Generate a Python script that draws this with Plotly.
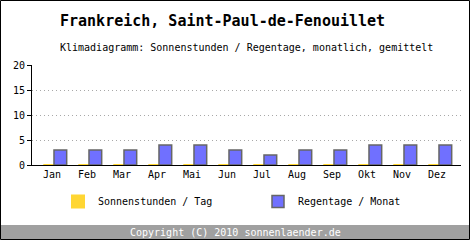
import plotly.graph_objects as go

months = ["Jan", "Feb", "Mar", "Apr", "Mai", "Jun", "Jul", "Aug", "Sep", "Okt", "Nov", "Dez"]
sonnenstunden = [0, 0, 0, 0, 0, 0, 0, 0, 0, 0, 0, 0]
regentage = [3, 3, 3, 4, 4, 3, 2, 3, 3, 4, 4, 4]
y_ticks = [0, 5, 10, 15, 20]

W, H = 470, 240
L, R, T, B = 32, 9, 65, 75
PW = W - L - R
PH = H - T - B

def px(x):
    return (x - L) / PW

def py(y):
    return (H - B - y) / PH

MONO = "DejaVu Sans Mono"
xs = list(range(len(months)))

fig = go.Figure()
fig.add_trace(go.Bar(
    x=xs, y=sonnenstunden, name="Sonnenstunden / Tag",
    offset=-0.249, width=0.306,
    marker=dict(color="#ffd633", line=dict(color="#ffd633", width=2)),
))
fig.add_trace(go.Bar(
    x=xs, y=regentage, name="Regentage / Monat",
    offset=0.057, width=0.363,
    marker=dict(color="#7070ff", line=dict(color="#666666", width=1.5)),
))

fig.update_layout(
    width=W, height=H,
    margin=dict(l=L, r=R, t=T, b=B, pad=0),
    paper_bgcolor="#ffffff", plot_bgcolor="#ffffff",
    barmode="overlay",
    showlegend=True,
    font=dict(family=MONO, size=10, color="#000000"),
    legend=dict(orientation="h", x=px(58), xanchor="left", y=py(201.5), yanchor="middle",
                entrywidth=155, entrywidthmode="pixels",
                font=dict(family=MONO, size=10, color="#000000"),
                bgcolor="rgba(0,0,0,0)", tracegroupgap=0),
    xaxis=dict(range=[-0.571, 11.686], tickvals=xs, ticktext=months,
               showgrid=False, zeroline=False, showline=True, linecolor="#000000",
               linewidth=1, ticks="", layer="below traces",
               tickfont=dict(family=MONO, size=10, color="#000000"), fixedrange=True),
    yaxis=dict(range=[0, 20], tickvals=y_ticks, showgrid=True, gridcolor="#a8a8a8",
               griddash="1px,3px", gridwidth=1, zeroline=False, showline=True,
               linecolor="#000000", linewidth=1, ticks="outside", ticklen=4,
               tickcolor="#000000", tickfont=dict(family=MONO, size=10, color="#000000"),
               fixedrange=True),
    shapes=[
        dict(type="rect", xref="paper", yref="paper", x0=px(1), x1=px(469), y0=py(225), y1=py(239),
             fillcolor="#a0a0a0", line=dict(width=0), layer="below"),
        dict(type="rect", xref="paper", yref="paper", x0=px(0.5), x1=px(469.5), y0=py(0.5), y1=py(239.5),
             fillcolor="rgba(0,0,0,0)", line=dict(color="#000000", width=1)),
    ],
    annotations=[
        dict(text="<b>Frankreich, Saint-Paul-de-Fenouillet</b>", xref="paper", yref="paper",
             x=px(58), y=py(21.5), xanchor="left", yanchor="middle", showarrow=False,
             font=dict(family=MONO, size=15, color="#000000")),
        dict(text="Klimadiagramm: Sonnenstunden / Regentage, monatlich, gemittelt", xref="paper", yref="paper",
             x=px(58), y=py(47), xanchor="left", yanchor="middle", showarrow=False,
             font=dict(family=MONO, size=10, color="#000000")),
        dict(text="Copyright (C) 2010 sonnenlaender.de", xref="paper", yref="paper",
             x=px(235), y=py(232), xanchor="center", yanchor="middle", showarrow=False,
             font=dict(family=MONO, size=10, color="#ffffff")),
    ],
)

fig.write_html("out.html", config={"displayModeBar": False})
